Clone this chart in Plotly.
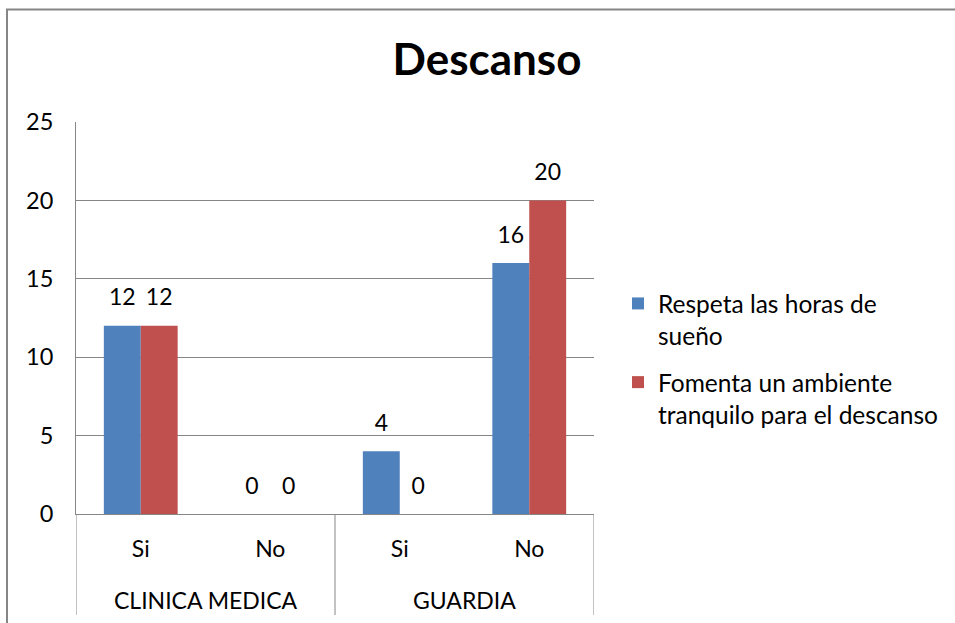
import plotly.graph_objects as go

groups = ["CLINICA MEDICA", "CLINICA MEDICA", "GUARDIA", "GUARDIA"]
answers = ["Si", "No", "Si", "No"]
series_names = ["Respeta las horas de<br>sueño", "Fomenta un ambiente<br>tranquilo para el descanso"]
respeta = [12, 0, 4, 16]
fomenta = [12, 0, 0, 20]
colors = ["#4F81BD", "#C0504D"]
y_ticks = [0, 5, 10, 15, 20, 25]

FONT = "Lato, Carlito, Calibri, sans-serif"
BARGAP = 0.43
GRID = "#868686"

idx = list(range(len(answers)))
n_series = 2
bw = (1 - BARGAP) / n_series

fig = go.Figure()
for k, (name, vals, col) in enumerate(zip(series_names, [respeta, fomenta], colors)):
    fig.add_trace(go.Bar(
        x=idx, y=vals, name=name, legendgroup="s%d" % k,
        marker=dict(color=col, line=dict(width=0)),
        hoverinfo="y",
    ))
for k, vals in enumerate([respeta, fomenta]):
    shift = (k - (n_series - 1) / 2) * bw
    fig.add_trace(go.Scatter(
        x=[i + shift for i in idx], y=vals, mode="markers+text",
        text=[str(v) for v in vals], textposition="top center",
        textfont=dict(size=23, color="black", family=FONT),
        marker=dict(size=22, color="rgba(0,0,0,0)"),
        showlegend=False, hoverinfo="skip", cliponaxis=False,
    ))

W, H = 955, 623
L, R, T, B = 76, 594, 122, 514
pw, ph = R - L, B - T

def px(xp):
    return (xp - L) / pw

def py(yp):
    return (B - yp) / ph

fig.update_layout(
    width=W, height=H,
    margin=dict(l=L, r=W - R, t=T, b=H - B, pad=0, autoexpand=False),
    paper_bgcolor="white", plot_bgcolor="white",
    font=dict(family=FONT, size=23, color="black"),
    barmode="group", bargap=BARGAP, bargroupgap=0,
    title=dict(text="<b>Descanso</b>", x=487 / W, xanchor="center",
               y=1 - 60 / H, yanchor="middle",
               font=dict(size=44, family=FONT, color="black")),
    showlegend=True,
    legend=dict(x=px(618), y=py(281), xanchor="left", yanchor="top",
                font=dict(size=24.5, family=FONT, color="black"),
                valign="top", itemsizing="constant", tracegroupgap=12,
                bgcolor="rgba(0,0,0,0)"),
    xaxis=dict(range=[-0.5, len(idx) - 0.5], tickvals=idx, ticktext=answers,
               showgrid=False, zeroline=False, ticks="",
               showline=True, linecolor=GRID, linewidth=1,
               ticklabelstandoff=14,
               tickfont=dict(size=23, family=FONT, color="black")),
    yaxis=dict(range=[0, 25], tickvals=y_ticks, showgrid=True, gridcolor=GRID,
               gridwidth=1, zeroline=False, showline=True, linecolor=GRID,
               linewidth=1, ticks="", ticklabelstandoff=17,
               tickfont=dict(size=23.5, family=FONT, color="black")),
)

# group labels and dividers of the two-level category axis
uniq = []
for g in groups:
    if g not in uniq:
        uniq.append(g)
bounds = [-0.5]
for g in uniq:
    members = [i for i, gg in enumerate(groups) if gg == g]
    fig.add_annotation(x=sum(members) / len(members), xref="x",
                       y=py(600), yref="paper", yanchor="middle",
                       text=g, showarrow=False,
                       font=dict(size=23, family=FONT, color="black"))
    bounds.append(max(members) + 0.5)
for b in bounds:
    fig.add_shape(type="line", xref="x", yref="paper", x0=b, x1=b,
                  y0=0, y1=py(615), line=dict(color=GRID, width=1))

# outer chart frame (cropped in the reference)
fig.add_shape(type="rect", xref="paper", yref="paper",
              x0=px(7), x1=px(1000), y0=py(700), y1=py(9.5),
              line=dict(color=GRID, width=2), fillcolor="rgba(0,0,0,0)",
              layer="below")

fig.write_html("out.html", config={"displayModeBar": False},
               post_script="document.body.style.margin='0px';document.body.style.overflow='hidden';")
